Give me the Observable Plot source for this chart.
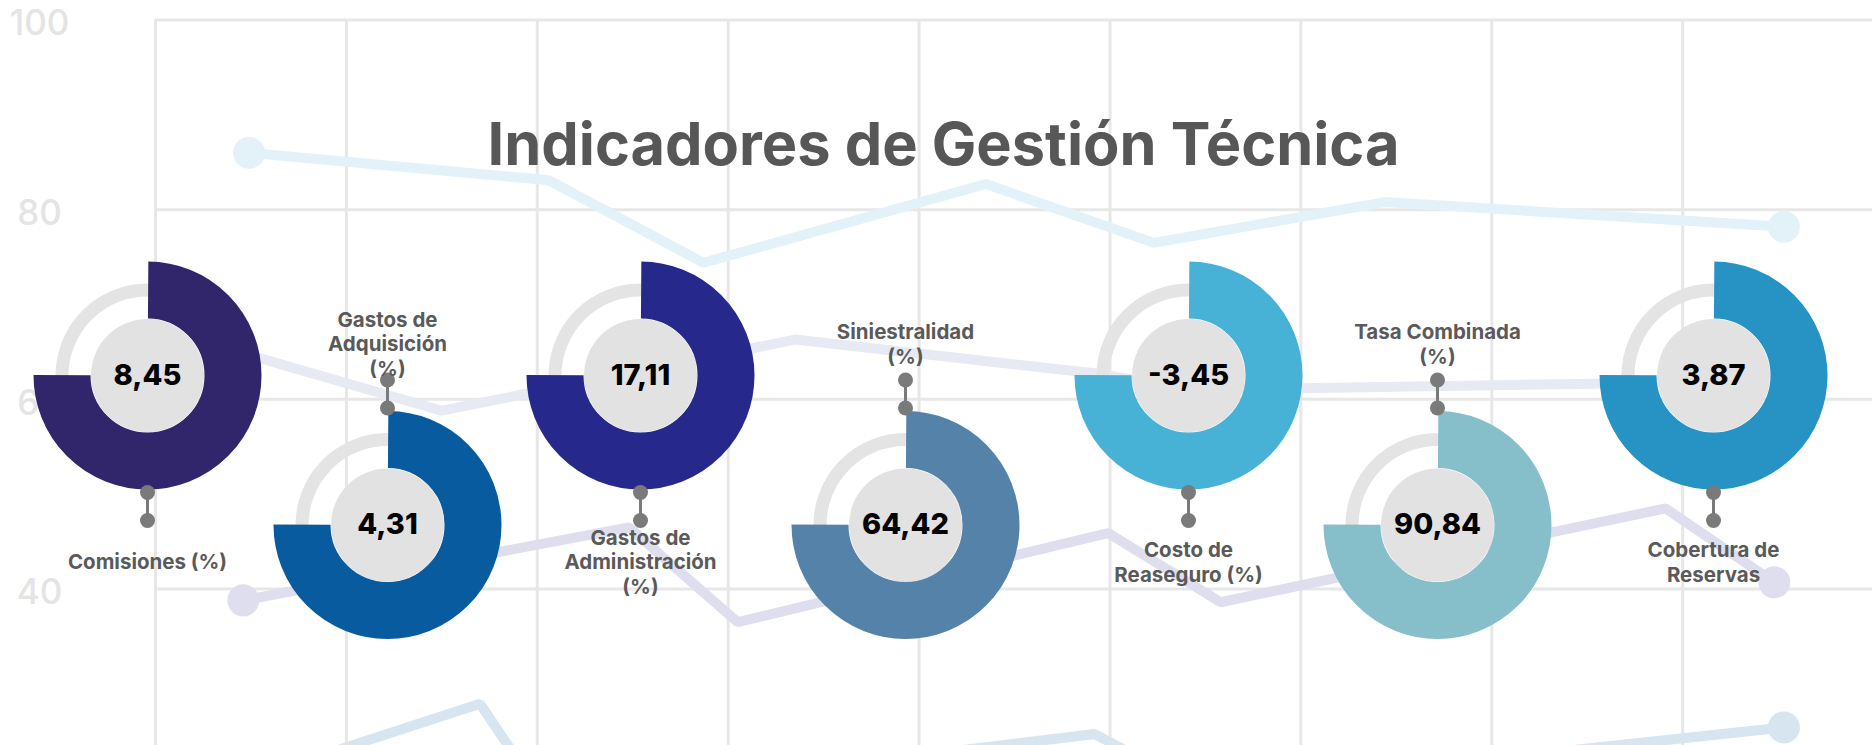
<!DOCTYPE html>
<html>
<head>
<meta charset="utf-8">
<script src="https://cdn.jsdelivr.net/npm/d3@7"></script>
<script src="https://cdn.jsdelivr.net/npm/@observablehq/plot@0.6"></script>
<style>
  html, body { margin: 0; padding: 0; background: #fff; overflow: hidden; }
</style>
</head>
<body>
<div id="chart"></div>
<script>
// ---------------- DATA ----------------
const title = "Indicadores de Gestión Técnica";

const indicators = [
  "Comisiones (%)",
  "Gastos de\nAdquisición\n(%)",
  "Gastos de\nAdministración\n(%)",
  "Siniestralidad\n(%)",
  "Costo de\nReaseguro (%)",
  "Tasa Combinada\n(%)",
  "Cobertura de\nReservas"
];
const values = [8.45, 4.31, 17.11, 64.42, -3.45, 90.84, 3.87];

// background (decorative) line chart
const yTicks = [100, 80, 60, 40];
const xGrid = [0, 1, 2, 3, 4, 5, 6, 7, 8];

const lineAx = [0.49, 2.06, 2.87, 4.35, 5.23, 6.44, 8.53];
const lineAy = [86.0, 83.1, 74.4, 82.7, 76.5, 80.8, 78.2];

const lineBx = [0.21, 1.50, 3.35, 4.94, 5.42, 8.09];
const lineBy = [66.3, 58.8, 66.3, 62.7, 61.0, 61.8];

const lineCx = [0.46, 2.48, 3.05, 4.99, 5.58, 7.91, 8.48];
const lineCy = [38.8, 46.5, 36.5, 45.9, 38.6, 48.5, 40.7];

const lineDx = [0.10, 1.70, 2.04, 4.92, 5.47, 8.53];
const lineDy = [17.4, 27.9, 17.7, 24.7, 18.8, 25.4];

// ---------------- LAYOUT / STYLE ----------------
const W = 1872, H = 745;
const donutColors = ["#31266b", "#085b9e", "#27288c", "#5582a8", "#48b2d6", "#86bfca", "#2793c5"];
const donutCxPx = [147, 387, 640, 905, 1188, 1437, 1713];
const donutRow = ["top", "bottom", "top", "bottom", "top", "bottom", "top"];
const rowCyPx = {top: 375, bottom: 524.5};

const x0px = 155, colPx = 190.9, y100px = 19.5, unitPx = 9.483;
const xDomain = [-x0px / colPx, (W - x0px) / colPx];
const yDomain = [100 - (H - y100px) / unitPx, 100 + y100px / unitPx];
const xs = d3.scaleLinear(xDomain, [0, W]);
const ys = d3.scaleLinear(yDomain, [H, 0]);

const fmt = v => v.toFixed(2).replace(".", ",");

const donuts = indicators.map((label, i) => {
  const top = donutRow[i] === "top";
  const cx = donutCxPx[i], cy = rowCyPx[donutRow[i]];
  const s = top ? 1 : -1;
  return {
    label, value: values[i], text: fmt(values[i]), color: donutColors[i],
    x: xs.invert(cx), y: ys.invert(cy),
    yDot1: ys.invert(cy + s * 117), yDot2: ys.invert(cy + s * 145),
    yLabel: ys.invert(cy + (top ? 186 : -181.5))
  };
});

const series = [
  {xv: lineAx, yv: lineAy, color: "#e3f2f8", dots: [0, 6]},
  {xv: lineBx, yv: lineBy, color: "#e7eaf3", dots: []},
  {xv: lineCx, yv: lineCy, color: "#dfdeef", dots: [0, 6]},
  {xv: lineDx, yv: lineDy, color: "#d7e5f1", dots: [5]}
];

const ringR = 85.5, C = 2 * Math.PI * ringR;
const dash = `${C / 2} ${C / 4} ${C / 4}`;

const marks = [
  // grid
  Plot.ruleX(xGrid, {x: d => d, y1: 100, y2: yDomain[0] - 5, stroke: "#e7e7e7", strokeWidth: 3}),
  Plot.ruleY(yTicks, {y: d => d, x1: 0, x2: xDomain[1] + 1, stroke: "#e7e7e7", strokeWidth: 3}),
  Plot.text(yTicks, {x: xs.invert(39), y: d => d, dy: 4, text: d => String(d), fontSize: 35, fontWeight: 500, fill: "#e4e4e4"}),
];

// background lines
series.forEach(s => {
  const pts = s.xv.map((x, i) => ({x, y: s.yv[i]}));
  marks.push(Plot.line(pts, {x: "x", y: "y", stroke: s.color, strokeWidth: 10, strokeLinejoin: "miter", strokeLinecap: "butt"}));
  marks.push(Plot.dot(s.dots.map(i => pts[i]), {x: "x", y: "y", r: 16, fill: s.color}));
});

// title
marks.push(Plot.text([title], {x: xs.invert(943), y: ys.invert(145), text: d => d, fontSize: 59.5, fontWeight: 700, fill: "#575757"}));

// donuts
marks.push(Plot.dot(donuts, {x: "x", y: "y", r: ringR, fill: "none", stroke: "#e4e4e4", strokeWidth: 13}));
donuts.forEach(d => {
  marks.push(Plot.dot([d], {x: "x", y: "y", r: ringR, fill: "none", stroke: d.color, strokeWidth: 57, strokeDasharray: dash}));
});
marks.push(Plot.dot(donuts, {x: "x", y: "y", r: 56.5, fill: "#e2e2e2"}));
marks.push(Plot.text(donuts, {x: "x", y: "y", text: "text", fontSize: 29, fontWeight: 800, fill: "#000"}));

// connectors
marks.push(Plot.link(donuts, {x1: "x", x2: "x", y1: "yDot1", y2: "yDot2", stroke: "#7a7a7a", strokeWidth: 3}));
marks.push(Plot.dot(donuts, {x: "x", y: "yDot1", r: 7.5, fill: "#7a7a7a"}));
marks.push(Plot.dot(donuts, {x: "x", y: "yDot2", r: 7.5, fill: "#7a7a7a"}));

// labels
marks.push(Plot.text(donuts, {x: "x", y: "yLabel", text: "label", lineAnchor: "middle", lineHeight: 1.2, fontSize: 20.5, fontWeight: 700, fill: "#5a5a5a"}));

const chart = Plot.plot({
  width: W, height: H,
  margin: 0,
  x: {domain: xDomain, axis: null},
  y: {domain: yDomain, axis: null},
  style: {fontFamily: "Inter, sans-serif", overflow: "hidden", background: "#fff"},
  marks
});
document.getElementById("chart").appendChild(chart);
</script>
</body>
</html>
